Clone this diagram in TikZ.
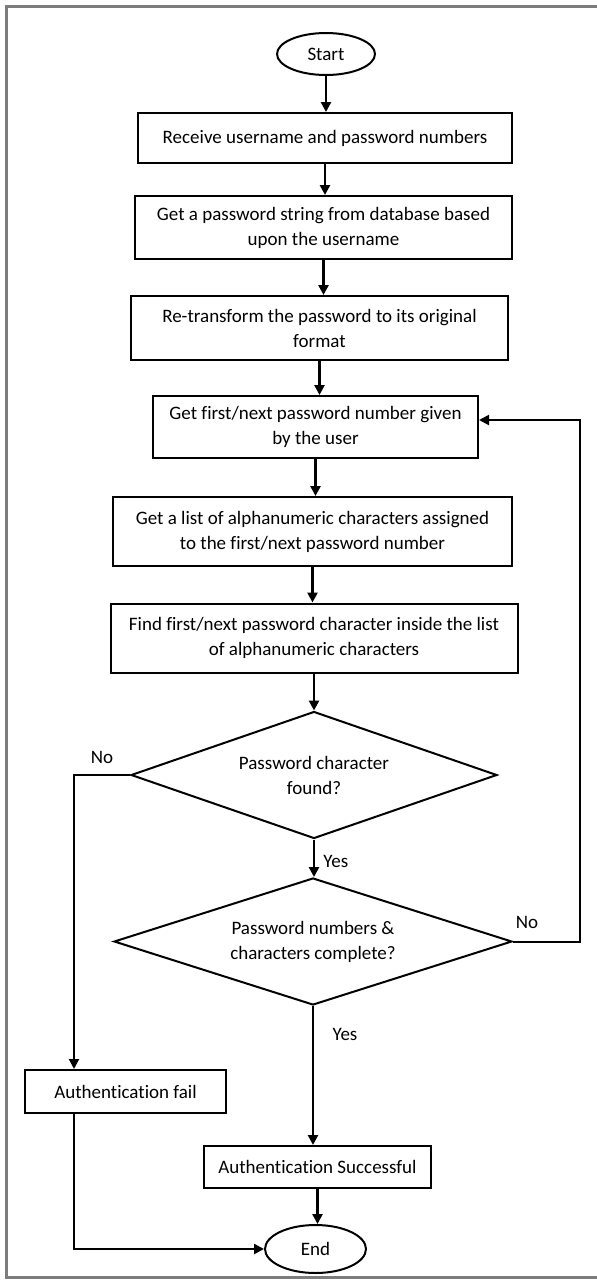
\documentclass[tikz,border=0pt]{standalone}
\usepackage{fontspec}
\setmainfont{Carlito}[Ligatures=NoCommon]
\usepackage{tikz}
\usetikzlibrary{arrows.meta,shapes,positioning}
\definecolor{framegray}{RGB}{125,125,125}
\tikzstyle{arrow} = [line width=1.3pt,-{Triangle[length=5pt,width=5pt]}]
\tikzstyle{process} = [draw, line width=1pt, rectangle, inner sep=0pt, align=center, font=\fontsize{9.5}{12.5}\selectfont]
\tikzstyle{decision} = [draw, line width=1pt, diamond, aspect=2.9, inner sep=0pt, align=center, font=\fontsize{9.5}{12.5}\selectfont]
\tikzstyle{terminal} = [draw, line width=1pt, ellipse, inner sep=0pt, font=\fontsize{9.5}{12.5}\selectfont]
\tikzstyle{answer} = [inner sep=0pt, font=\fontsize{9.5}{12.5}\selectfont]

\begin{document}
\begin{tikzpicture}[x=0.5pt,y=-0.5pt]
\useasboundingbox (0,0) rectangle (597,1280);
% Frame
\draw[framegray, line width=1.5pt] (600,6) -- (6,6) -- (6,1277) -- (600,1277);

% Steps
\node[terminal, minimum width=49pt, minimum height=21pt] (start) at (326,54) {Start};
\node[process, minimum width=187pt, minimum height=25pt] (recv) at (325,138) {Receive username and password numbers};
\node[process, minimum width=188.5pt, minimum height=31.5pt] (fetch) at (323.5,227.5) {Get a password string from database based\\upon the username};
\node[process, minimum width=188.5pt, minimum height=32pt] (retrans) at (319.5,328) {Re-transform the password to its original\\format};
\node[process, minimum width=162.5pt, minimum height=31pt] (nextnum) at (315.5,427) {Get first/next password number given\\by the user};
\node[process, minimum width=199.5pt, minimum height=34.5pt] (charlist) at (312.5,531.5) {Get a list of alphanumeric characters assigned\\to the first/next password number};
\node[process, minimum width=203.5pt, minimum height=34.5pt] (findchar) at (314,638) {Find first/next password character inside the list\\of alphanumeric characters};

% Decisions
\node[decision, minimum width=183pt, minimum height=63.5pt] (found) at (314,775) {Password character\\found?};
\node[decision, minimum width=199pt, minimum height=63.5pt] (complete) at (313,941.5) {Password numbers \&\\characters complete?};

% Results
\node[process, minimum width=100.5pt, minimum height=21.5pt] (fail) at (125.5,1091.5) {Authentication fail};
\node[process, minimum width=113.5pt, minimum height=21pt] (success) at (317.5,1167) {Authentication Successful};
\node[terminal, minimum width=50.5pt, minimum height=24pt] (end) at (315.5,1249) {End};

% Answers
\node[answer] (nofound) at (102,757) {No};
\node[answer, anchor=west] (yesfound) at (323,861) {Yes};
\node[answer] (nocomplete) at (527,922) {No};
\node[answer] (yescomplete) at (345,1034) {Yes};

% Bends
\coordinate (leftbend) at (74,775);
\coordinate (loopback) at (580,420);

% Main flow
\draw[arrow] (start.south) -- (start.south |- recv.north);
\draw[arrow] (recv.south) -- (recv.south |- fetch.north);
\draw[arrow] (fetch.south) -- (fetch.south |- retrans.north);
\draw[arrow] (retrans.south) -- (retrans.south |- nextnum.north);
\draw[arrow] (nextnum.south) -- (nextnum.south |- charlist.north);
\draw[arrow] (charlist.south) -- (charlist.south |- findchar.north);
\draw[arrow] (findchar.south) -- (findchar.south |- found.north);
\draw[arrow] (found.south) -- (found.south |- complete.north);
\draw[arrow] (complete.south) -- (complete.south |- success.north);
\draw[arrow] (success.south) -- (success.south |- end.north);

% Branches
\draw[arrow, line width=1pt] (found.west) -- (leftbend) -- (leftbend |- fail.north);
\draw[arrow, line width=1pt] (complete.east) -| (loopback) -- (loopback -| nextnum.east);
\draw[arrow] (leftbend |- fail.south) |- (end.west);
\end{tikzpicture}
\end{document}
